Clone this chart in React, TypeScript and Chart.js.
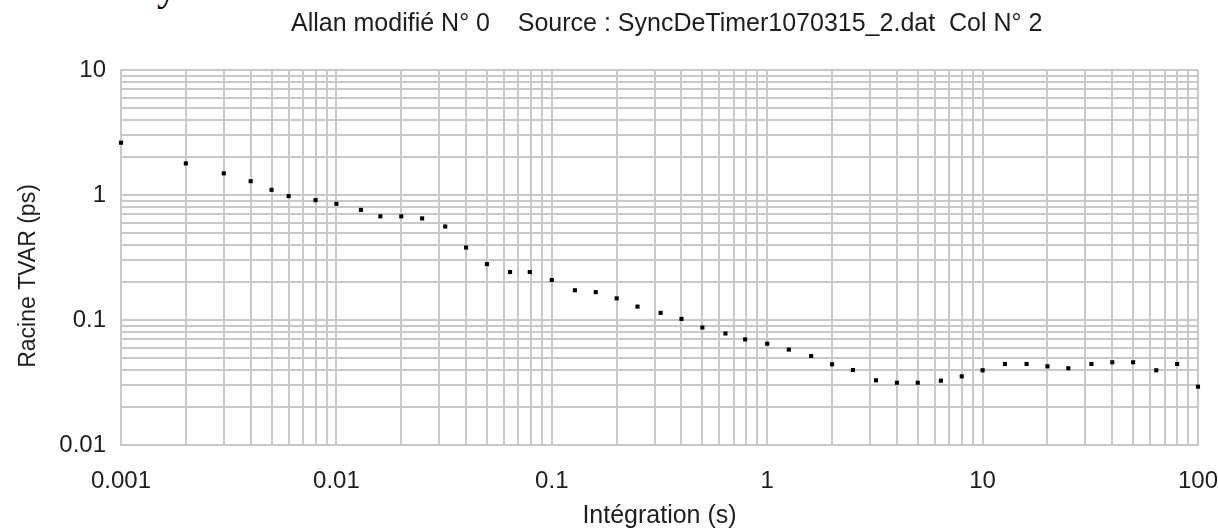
import { useEffect, useRef } from "react";
import { Chart, registerables } from "chart.js";

Chart.register(...registerables);

const TITLE = "Allan modifié N° 0    Source : SyncDeTimer1070315_2.dat  Col N° 2";
const X_TITLE = "Intégration (s)";
const Y_TITLE = "Racine TVAR (ps)";
const X_TICK_LABELS = ["0.001", "0.01", "0.1", "1", "10", "100"];
const Y_TICK_LABELS = ["0.01", "0.1", "1", "10"];
const MINOR_STEPS = [1, 2, 3, 4, 5, 6, 7, 8, 9];

const X_VALUES = [
  0.001, 0.002, 0.003, 0.004, 0.005, 0.006, 0.008,
  0.01, 0.013, 0.016, 0.02, 0.025, 0.032, 0.04, 0.05, 0.064, 0.079,
  0.1, 0.128, 0.16, 0.2, 0.25, 0.32, 0.4, 0.5, 0.64, 0.79,
  1, 1.26, 1.6, 2, 2.5, 3.2, 4, 5, 6.4, 8,
  10, 12.7, 16, 20, 25, 32, 40, 50, 64, 80,
  100,
];

const Y_VALUES = [
  2.62, 1.79, 1.49, 1.29, 1.1, 0.98, 0.91,
  0.85, 0.76, 0.675, 0.675, 0.65, 0.56, 0.38, 0.28, 0.242, 0.242,
  0.209, 0.173, 0.167, 0.149, 0.128, 0.114, 0.102, 0.087, 0.078, 0.07,
  0.0646, 0.058, 0.0515, 0.0442, 0.0398, 0.0329, 0.0315, 0.0315, 0.0327, 0.0354,
  0.0396, 0.0445, 0.0445, 0.0426, 0.0411, 0.0445, 0.0459, 0.0459, 0.0396, 0.0445,
  0.0293,
];

const FONT_FAMILY = "'Liberation Sans', Arial, sans-serif";
const TEXT_COLOR = "#1e1e1e";
const GRID_COLOR = "#c9c9c9";

function gridFor(labels: string[]): number[] {
  const decades = labels.map(Number);
  const out: number[] = [];
  decades.slice(0, -1).forEach((d) =>
    MINOR_STEPS.forEach((m) => out.push(Number((d * m).toPrecision(6))))
  );
  out.push(decades[decades.length - 1]);
  return out;
}

function labelFor(labels: string[]) {
  return (value: any) => {
    const v = Number(value);
    const hit = labels.find((l) => Math.abs(Number(l) - v) < Number(l) * 1e-6);
    return hit ?? "";
  };
}

const X_GRID = gridFor(X_TICK_LABELS);
const Y_GRID = gridFor(Y_TICK_LABELS);

const textPlugin = {
  id: "extraTexts",
  afterDraw(chart: any) {
    const ctx = chart.ctx as CanvasRenderingContext2D;
    ctx.save();
    ctx.fillStyle = TEXT_COLOR;
    ctx.font = `25px ${FONT_FAMILY}`;
    ctx.textAlign = "left";
    ctx.textBaseline = "alphabetic";
    ctx.fillText(TITLE, 291, 30.5);
    ctx.font = `23px ${FONT_FAMILY}`;
    ctx.translate(35, 276);
    ctx.rotate(-Math.PI / 2);
    ctx.textAlign = "center";
    ctx.fillText(Y_TITLE, 0, 0);
    ctx.restore();
  },
};

export default function App() {
  const canvasRef = useRef<HTMLCanvasElement | null>(null);

  useEffect(() => {
    if (!canvasRef.current) return;
    const tickFont = { family: FONT_FAMILY, size: 24 };
    const chart = new Chart(canvasRef.current, {
      type: "scatter",
      data: {
        datasets: [
          {
            data: X_VALUES.map((x, i) => ({ x, y: Y_VALUES[i] })),
            pointStyle: "rect",
            pointRadius: 2.9,
            pointBackgroundColor: "#000",
            pointBorderWidth: 0,
            showLine: false,
            clip: false,
          } as any,
        ],
      },
      options: {
        animation: false,
        responsive: false,
        events: [],
        layout: { padding: { left: 0, right: 20, top: 70, bottom: 0 } },
        plugins: {
          legend: { display: false },
          tooltip: { enabled: false },
          title: { display: false },
        },
        scales: {
          x: {
            type: "logarithmic",
            min: 0.001,
            max: 100,
            afterBuildTicks: (s: any) => {
              s.ticks = X_GRID.map((v) => ({ value: v }));
            },
            afterFit: (s: any) => {
              s.height = 87;
              s.paddingLeft = 0;
              s.paddingRight = 0;
            },
            grid: { color: GRID_COLOR, lineWidth: 2, drawTicks: false },
            border: { color: GRID_COLOR, width: 2 },
            ticks: {
              autoSkip: false,
              maxRotation: 0,
              minRotation: 0,
              padding: 22,
              color: TEXT_COLOR,
              font: tickFont,
              callback: labelFor(X_TICK_LABELS),
            },
            title: {
              display: true,
              text: X_TITLE,
              color: TEXT_COLOR,
              font: { family: FONT_FAMILY, size: 25 },
              padding: { top: 0, bottom: 1 },
            },
          },
          y: {
            type: "logarithmic",
            min: 0.01,
            max: 10,
            afterBuildTicks: (s: any) => {
              s.ticks = Y_GRID.map((v) => ({ value: v }));
            },
            afterFit: (s: any) => {
              s.width = 121;
              s.paddingTop = 0;
              s.paddingBottom = 0;
            },
            grid: { color: GRID_COLOR, lineWidth: 2, drawTicks: false },
            border: { color: GRID_COLOR, width: 2 },
            ticks: {
              autoSkip: false,
              padding: 15,
              color: TEXT_COLOR,
              font: tickFont,
              callback: labelFor(Y_TICK_LABELS),
            },
          },
        },
      } as any,
      plugins: [textPlugin],
    });
    return () => chart.destroy();
  }, []);

  return (
    <div style={{ position: "fixed", left: 0, top: 0, width: 1218, height: 532, background: "#fff", overflow: "hidden" }}>
      <div
        style={{
          position: "absolute",
          left: 157,
          top: -33,
          font: "40px 'Liberation Serif', serif",
          lineHeight: "40px",
          color: "#000",
        }}
      >
        y
      </div>
      <canvas ref={canvasRef} width={1218} height={532} style={{ position: "absolute", left: 0, top: 0 }} />
    </div>
  );
}
